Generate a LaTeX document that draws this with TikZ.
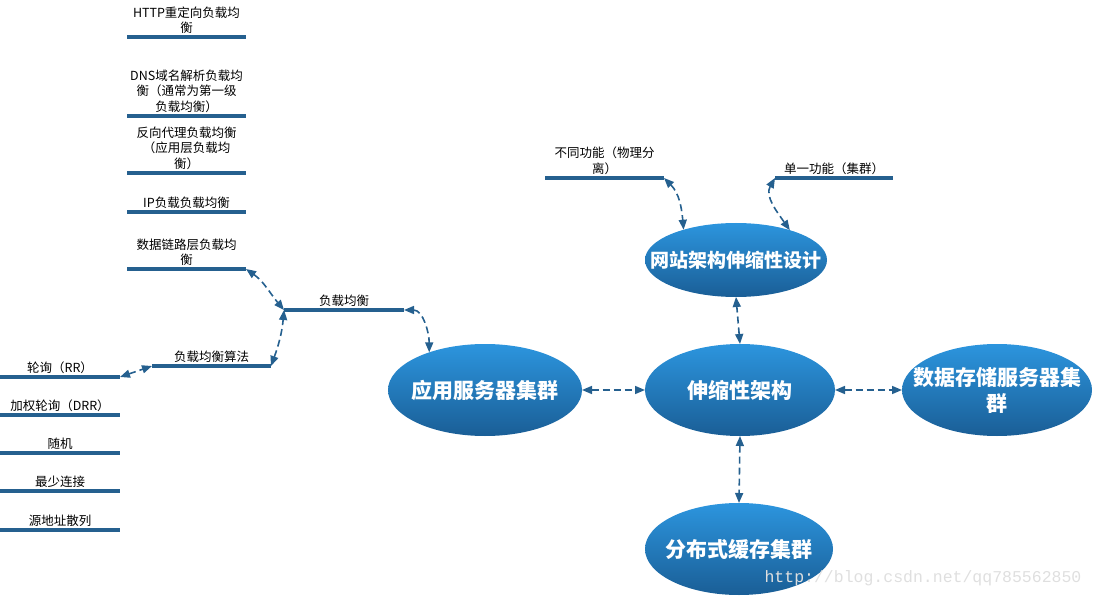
\documentclass[tikz,border=0pt]{standalone}
\usepackage{fontspec}
\setmainfont{Noto Sans CJK SC}
\newfontfamily\wmfont{Liberation Mono}
\usepackage{tikz}
\usetikzlibrary{arrows.meta,shapes.geometric}
\usepackage{xcolor}
\definecolor{barblue}{RGB}{37,96,143}
\definecolor{topblue}{RGB}{44,149,222}
\definecolor{botblue}{RGB}{26,94,150}

\begin{document}
\begin{tikzpicture}[x=1pt, y=1pt,
		bubble/.style={ellipse, inner sep=0pt, outer sep=0pt, top color=topblue, bottom color=botblue},
		btext/.style={text=white, align=center, inner sep=0pt, font=\bfseries\fontsize{21}{26}\selectfont},
		bar/.style={fill=barblue, inner sep=0pt, outer sep=0pt, minimum width=119pt, minimum height=3.5pt},
		lbl/.style={anchor=south, align=center, inner xsep=0pt, inner ysep=1.5pt, font=\fontsize{12.5}{15.5}\selectfont},
		link/.style={{Triangle[length=10pt,width=8pt]}-{Triangle[length=10pt,width=8pt]}, dash pattern=on 7pt off 4pt, line width=1.6pt, color=barblue}]
	\useasboundingbox (0,0) rectangle (1095,598);
	% ellipses
	\node[bubble, minimum width=194pt, minimum height=92pt, label={[btext]center:应用服务器集群}] (app) at (485,208) {};
	\node[bubble, minimum width=190pt, minimum height=92pt, label={[btext]center:伸缩性架构}] (core) at (740,208) {};
	\node[bubble, minimum width=190pt, minimum height=92pt, label={[btext]center:{数据存储服务器集\\群}}] (data) at (997,208) {};
	\node[bubble, minimum width=182pt, minimum height=74pt, label={[btext, font=\bfseries\fontsize{19}{23}\selectfont]center:网站架构伸缩性设计}] (design) at (736,338) {};
	\node[bubble, minimum width=188pt, minimum height=92pt, label={[btext]center:分布式缓存集群}] (cache) at (739,49) {};
	% bars and their texts
	\node[bar] (http) at (186.5,561) {};
	\node[lbl] (http-t) at (http.north) {HTTP重定向负载均\\衡};
	\node[bar] (dns) at (186.5,482) {};
	\node[lbl] (dns-t) at (dns.north) {DNS域名解析负载均\\衡（通常为第一级\\负载均衡）};
	\node[bar] (rev) at (186.5,425) {};
	\node[lbl] (rev-t) at (rev.north) {反向代理负载均衡\\（应用层负载均\\衡）};
	\node[bar] (ip) at (186.5,386) {};
	\node[lbl] (ip-t) at (ip.north) {IP负载负载均衡};
	\node[bar] (dl) at (186.5,329) {};
	\node[lbl] (dl-t) at (dl.north) {数据链路层负载均\\衡};
	\node[bar, minimum width=120pt] (lb) at (344,288) {};
	\node[lbl] (lb-t) at (lb.north) {负载均衡};
	\node[bar] (algo) at (211.5,232) {};
	\node[lbl] (algo-t) at (algo.north) {负载均衡算法};
	\node[bar, minimum width=120pt] (rr) at (60,221) {};
	\node[lbl] (rr-t) at (rr.north) {轮询（RR）};
	\node[bar, minimum width=120pt] (drr) at (60,183) {};
	\node[lbl] (drr-t) at (drr.north) {加权轮询（DRR）};
	\node[bar, minimum width=120pt] (rand) at (60,145) {};
	\node[lbl] (rand-t) at (rand.north) {随机};
	\node[bar, minimum width=120pt] (least) at (60,107) {};
	\node[lbl] (least-t) at (least.north) {最少连接};
	\node[bar, minimum width=120pt] (hash) at (60,68) {};
	\node[lbl] (hash-t) at (hash.north) {源地址散列};
	\node[bar] (func) at (604.5,420) {};
	\node[lbl] (func-t) at (func.north) {不同功能（物理分\\离）};
	\node[bar, minimum width=118pt] (single) at (834,420) {};
	\node[lbl] (single-t) at (single.north) {单一功能（集群）};
	% dashed links
	\draw[link] (dl.east) to[out=-35, in=130] (lb.west);
	\draw[link] (algo.east) to[out=70, in=-95] (lb.west);
	\draw[link] (lb.east) to[out=0, in=90] (app.146);
	\draw[link] (rr.east) -- (algo.west);
	\draw[link] (app.east) -- (core.west);
	\draw[link] (core.east) -- (data.west);
	\draw[link] (core.north) -- (design.south);
	\draw[link] (core.south) -- (cache.north);
	\draw[link] (func.east) to[out=-45, in=95] (design.150);
	\draw[link] (single.west) to[out=-120, in=125] (design.29);
	\node[font=\wmfont\fontsize{16.5}{18}\selectfont, text=gray!25] (wm) at (923,20) {http://blog.csdn.net/qq785562850};
\end{tikzpicture}
\end{document}
